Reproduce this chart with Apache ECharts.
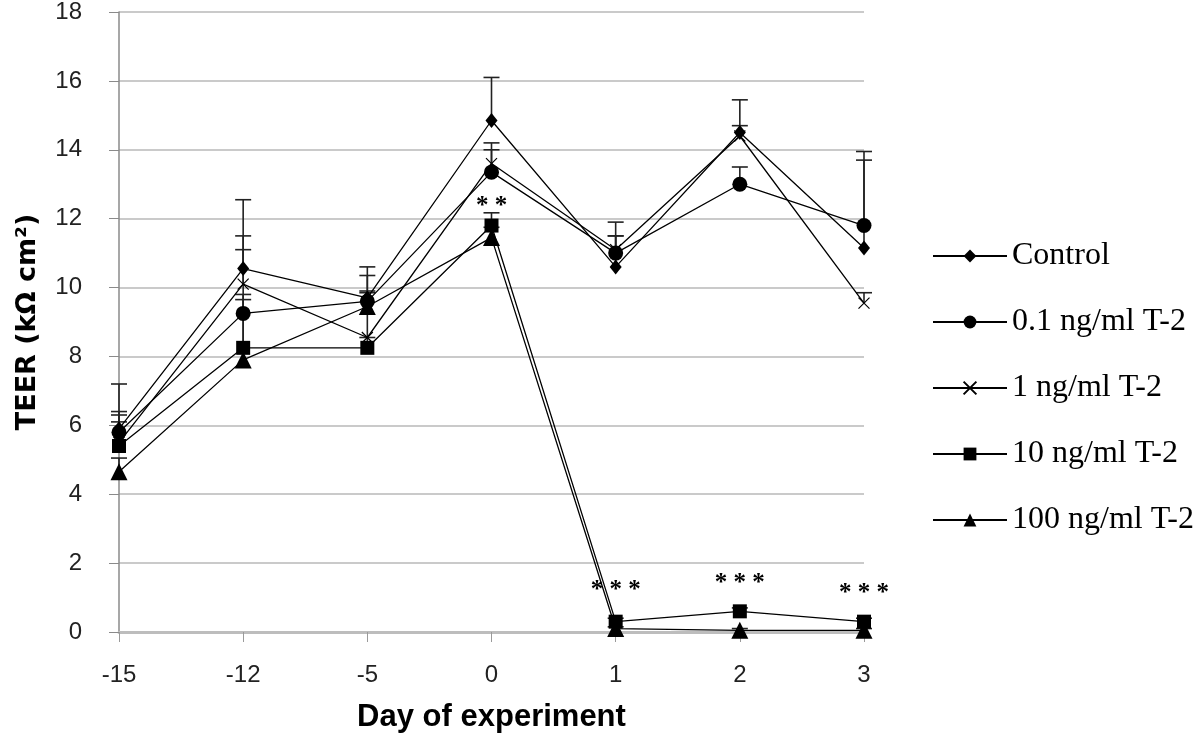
<!DOCTYPE html>
<html>
<head>
<meta charset="utf-8">
<script src="https://cdn.jsdelivr.net/npm/echarts@6/dist/echarts.min.js"></script>
<style>
html,body{margin:0;padding:0;background:#fff;}
#chart{width:1200px;height:742px;}
</style>
</head>
<body>
<div id="chart"></div>
<script>
const days = ['-15', '-12', '-5', '0', '1', '2', '3'];
const yTicks = [0, 2, 4, 6, 8, 10, 12, 14, 16, 18];
const seriesNames = ['Control', '0.1 ng/ml T-2', '1 ng/ml T-2', '10 ng/ml T-2', '100 ng/ml T-2'];

const controlVals = [5.9, 10.55, 9.7, 14.85, 10.6, 14.5, 11.15];
const t01Vals     = [5.8, 9.25, 9.6, 13.35, 11.0, 13.0, 11.8];
const t1Vals      = [5.5, 10.1, 8.55, 13.6, 11.1, 14.4, 9.55];
const t10Vals     = [5.4, 8.25, 8.25, 11.8, 0.3, 0.6, 0.3];
const t100Vals    = [4.65, 7.9, 9.45, 11.45, 0.1, 0.05, 0.05];

const controlErr = [1.3, 2.0, 0.9, 1.25, 1.3, 0.95, 2.8];
const t01Err     = [0.5, 1.85, 0.3, 0.85, 0.5, 0.5, 1.9];
const t1Err      = [0.6, 1.4, 1.8, 0.4, 0.4, 0.3, 0.3];
const t10Err     = [1.0, 1.4, 0.3, 0.37, 0.1, 0.1, 0.1];
const t100Err    = [0.4, 1.9, 0.4, 0.3, 0.05, 0.05, 0.05];

const stars = ['', '', '', '**', '***', '***', '***'];

const allVals = [controlVals, t01Vals, t1Vals, t10Vals, t100Vals];
const allErr = [controlErr, t01Err, t1Err, t10Err, t100Err];
const symbols = ['diamond', 'circle', 'path://M0,0L10,10M10,0L0,10', 'rect', 'triangle'];
const symbolSizes = [[12, 15], 15, 11, 14, 17];
const starDist = [0, 0, 0, 0, 12, 8, 9];

const chart = echarts.init(document.getElementById('chart'));

const series = [];
allVals.forEach((vals, s) => {
  series.push({
    type: 'custom',
    name: seriesNames[s] + ' err',
    z: 1,
    silent: true,
    data: vals.map((v, i) => [i, v, allErr[s][i]]),
    renderItem: function (params, api) {
      const i = api.value(0), v = api.value(1), e = api.value(2);
      const p0 = api.coord([i, v]);
      const p1 = api.coord([i, v + e]);
      return {
        type: 'group',
        children: [
          { type: 'line', shape: { x1: p0[0], y1: p0[1], x2: p1[0], y2: p1[1] }, style: { stroke: '#222', lineWidth: 1.6 } },
          { type: 'line', shape: { x1: p1[0] - 8, y1: p1[1], x2: p1[0] + 8, y2: p1[1] }, style: { stroke: '#222', lineWidth: 1.6 } }
        ]
      };
    }
  });
});
allVals.forEach((vals, s) => {
  const isX = s === 2;
  series.push({
    type: 'line',
    name: seriesNames[s],
    z: 3,
    data: vals.map((v, i) => {
      if (s === 3 && stars[i]) {
        return { value: v, label: { show: true, formatter: stars[i].split('').join(' '), distance: starDist[i] } };
      }
      return v;
    }),
    symbol: symbols[s],
    symbolSize: symbolSizes[s],
    showAllSymbol: true,
    lineStyle: { color: '#000', width: 1.3 },
    itemStyle: isX ? { color: 'rgba(0,0,0,0)', borderColor: '#000', borderWidth: 1.2 } : { color: '#000', borderWidth: 0 },
    label: { show: false, position: 'top', color: '#000', fontFamily: 'Liberation Serif', fontSize: 25, fontWeight: 'bold' },
    emphasis: { disabled: true },
    animation: false
  });
});

chart.setOption({
  animation: false,
  backgroundColor: '#fff',
  grid: { left: 119, right: 336, top: 12, bottom: 110, containLabel: false },
  legend: {
    data: seriesNames,
    orient: 'vertical',
    left: 927,
    top: 235,
    itemWidth: 74,
    itemHeight: 16,
    itemGap: 34,
    textStyle: { fontFamily: 'Liberation Serif', fontSize: 32, color: '#000' },
    selectedMode: false
  },
  xAxis: {
    type: 'category',
    data: days,
    boundaryGap: false,
    name: 'Day of experiment',
    nameLocation: 'middle',
    nameGap: 70,
    nameTextStyle: { fontFamily: 'Liberation Sans, sans-serif', fontWeight: 'bold', fontSize: 31, color: '#000' },
    axisLine: { lineStyle: { color: '#bdbdbd', width: 3 } },
    axisTick: { show: true, alignWithLabel: true, length: 10, lineStyle: { color: '#9a9a9a', width: 1 } },
    axisLabel: { fontFamily: 'Liberation Sans, sans-serif', fontSize: 24, color: '#222', margin: 31 },
    splitLine: { show: false }
  },
  yAxis: {
    type: 'value',
    min: yTicks[0],
    max: yTicks[yTicks.length - 1],
    interval: 2,
    name: 'TEER (kΩ cm²)',
    nameLocation: 'middle',
    nameGap: 78,
    nameRotate: 90,
    nameTextStyle: { fontFamily: 'DejaVu Sans, sans-serif', fontWeight: 'bold', fontSize: 27, color: '#000' },
    axisLine: { show: true, lineStyle: { color: '#8a8a8a', width: 1.5 } },
    axisTick: { show: true, length: 10, lineStyle: { color: '#8a8a8a', width: 1 } },
    axisLabel: { fontFamily: 'Liberation Sans, sans-serif', fontSize: 24, color: '#222', margin: 37 },
    splitLine: { show: true, lineStyle: { color: '#b8b8b8', width: 1.6 } }
  },
  series: series
});
</script>
</body>
</html>
